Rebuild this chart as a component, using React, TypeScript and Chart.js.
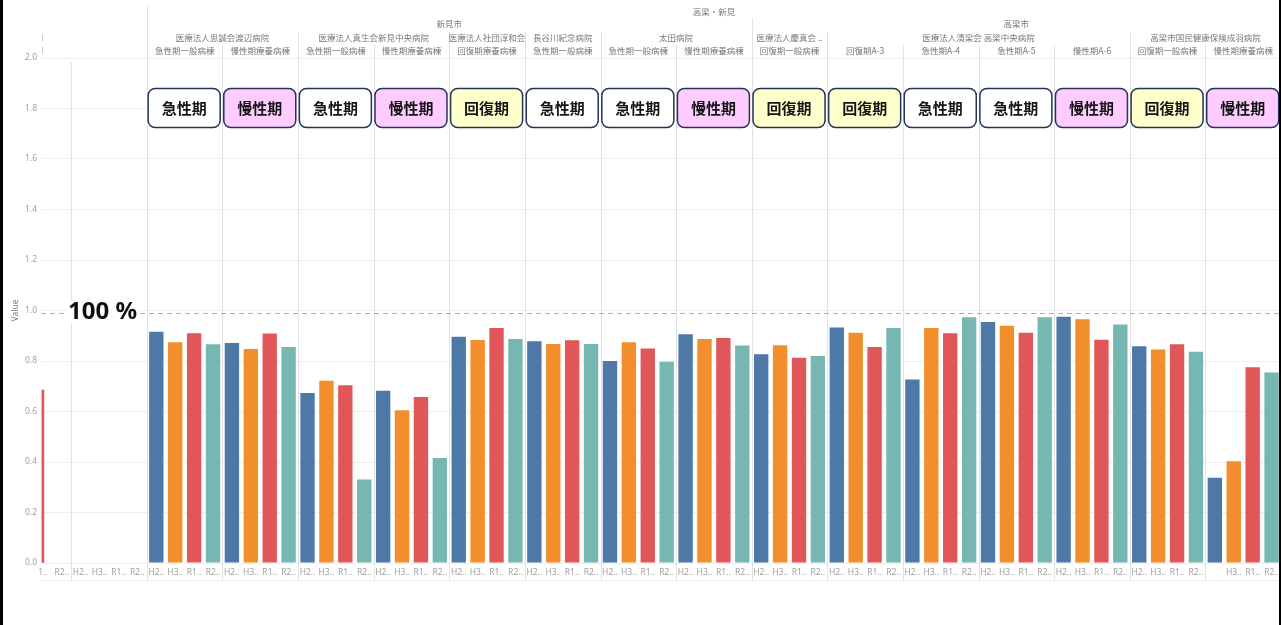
import React, { useEffect, useRef } from 'react';
import { Chart, registerables } from 'chart.js';

Chart.register(...registerables);

// ---------- data ----------
const seriesNames = ['H2', 'H3', 'R1', 'R2'];
const seriesColors = ['#4e79a7', '#f28e2b', '#e15759', '#76b7b2'];

// one value per panel (17 panels; panel 0 is scrolled partly out of view, panel 1 is empty)
const h2Values = [null, null, 0.916, 0.871, 0.673, 0.682, 0.896, 0.878, 0.8, 0.906, 0.827, 0.933, 0.727, 0.954, 0.975, 0.858, 0.338];
const h3Values = [null, null, 0.874, 0.848, 0.722, 0.605, 0.883, 0.867, 0.874, 0.887, 0.862, 0.912, 0.931, 0.94, 0.965, 0.846, 0.403];
const r1Values = [0.685, null, 0.91, 0.909, 0.704, 0.657, 0.931, 0.882, 0.85, 0.891, 0.813, 0.855, 0.91, 0.912, 0.884, 0.866, 0.775];
const r2Values = [null, null, 0.866, 0.855, 0.331, 0.416, 0.887, 0.867, 0.797, 0.861, 0.82, 0.931, 0.973, 0.973, 0.945, 0.837, 0.754];

const standardTicks = ['H2..', 'H3..', 'R1..', 'R2..'];
const firstPanelTicks = ['', '', '1..', 'R2..'];
const lastPanelTicks = ['', 'H3..', 'R1..', 'R2..'];

const wardNames = ['', '', '急性期一般病棟', '慢性期療養病棟', '急性期一般病棟', '慢性期療養病棟', '回復期療養病棟', '急性期一般病棟', '急性期一般病棟', '慢性期療養病棟', '回復期一般病棟', '回復期A-3', '急性期A-4', '急性期A-5', '慢性期A-6', '回復期一般病棟', '慢性期療養病棟'];
const hospitalNames = ['医療法人思誠会渡辺病院', '医療法人真生会新見中央病院', '医療法人社団淳和会', '長谷川紀念病院', '太田病院', '医療法人慶真会 ..', '医療法人清梁会 高梁中央病院', '高梁市国民健康保険成羽病院'];
const hospitalSpans = [[2, 3], [4, 5], [6, 6], [7, 7], [8, 9], [10, 10], [11, 14], [15, 16]];
const cityNames = ['新見市', '高梁市'];
const citySpans = [[2, 9], [10, 16]];
const regionName = '高梁・新見';
const regionSpan = [2, 16];
const phaseBadges = [null, null, '急性期', '慢性期', '急性期', '慢性期', '回復期', '急性期', '急性期', '慢性期', '回復期', '回復期', '急性期', '急性期', '慢性期', '回復期', '慢性期'];
const badgeFill: Record<string, string> = { '急性期': '#ffffff', '慢性期': '#ffccff', '回復期': '#ffffcc' };

const referenceValue = 0.99;
const referenceLabel = '100 %';

const seriesValues = [h2Values, h3Values, r1Values, r2Values];
const panelCount = wardNames.length;
const tickLabels = [firstPanelTicks, ...Array(panelCount - 2).fill(standardTicks), lastPanelTicks].flat();

const CJK = '"Noto Sans CJK JP", "Noto Sans", sans-serif';

function panelEdges(chart: any, p: number) {
  const x = chart.scales.x;
  return [x.getPixelForValue(p * 4 - 0.5), Math.min(x.getPixelForValue(p * 4 + 3.5), chart.chartArea.right)];
}

const hospitalStarts = hospitalSpans.map((s) => s[0]);
function separatorTop(p: number) {
  if (p === regionSpan[0]) return 5;
  if (citySpans.some((s) => s[0] === p)) return 18;
  if (hospitalStarts.includes(p)) return 32;
  if (p < regionSpan[0]) return 62;
  return 45;
}

const decorPlugin = {
  id: 'decor',
  beforeDatasetsDraw(chart: any) {
    const ctx = chart.ctx;
    const area = chart.chartArea;
    ctx.save();
    ctx.strokeStyle = '#e2e2e2';
    ctx.lineWidth = 1;
    for (let p = 1; p < panelCount; p++) {
      const px = Math.round(panelEdges(chart, p)[0]) + 0.5;
      ctx.beginPath();
      ctx.moveTo(px, separatorTop(p));
      ctx.lineTo(px, 581);
      ctx.stroke();
    }
    ctx.strokeStyle = '#eeeeee';
    ctx.beginPath();
    ctx.moveTo(area.left, 580.5);
    ctx.lineTo(area.right, 580.5);
    ctx.stroke();
    // clipped header marks of the scrolled-out panel
    ctx.fillStyle = '#c4c4c4';
    ctx.fillRect(Math.round(area.left) + 1, 35, 1, 6);
    ctx.fillRect(Math.round(area.left) + 1, 47, 1, 6);
    ctx.restore();
  },
  afterDraw(chart: any) {
    const ctx = chart.ctx;
    const area = chart.chartArea;
    const y = chart.scales.y;
    ctx.save();
    ctx.textAlign = 'center';
    ctx.textBaseline = 'middle';
    ctx.fillStyle = '#777';
    ctx.font = `8.5px ${CJK}`;
    const spanCenter = (s: number[]) => (panelEdges(chart, s[0])[0] + panelEdges(chart, s[1])[1]) / 2;
    ctx.fillText(regionName, spanCenter(regionSpan), 12);
    cityNames.forEach((n, i) => ctx.fillText(n, spanCenter(citySpans[i]), 24));
    hospitalNames.forEach((n, i) => ctx.fillText(n, spanCenter(hospitalSpans[i]), 38));
    wardNames.forEach((n, p) => {
      if (n) ctx.fillText(n, spanCenter([p, p]), 51);
    });

    // phase badges
    phaseBadges.forEach((b, p) => {
      if (!b) return;
      const c = spanCenter([p, p]) - 0.5;
      const w = 72;
      const h = 39;
      const top = 88.5;
      ctx.beginPath();
      ctx.roundRect(c - w / 2, top, w, h, 7);
      ctx.fillStyle = badgeFill[b];
      ctx.fill();
      ctx.lineWidth = 1.5;
      ctx.strokeStyle = '#24345a';
      ctx.stroke();
      ctx.fillStyle = '#151515';
      ctx.font = `bold 15px ${CJK}`;
      ctx.fillText(b, c, top + h / 2 + 0.5);
    });

    // reference line
    const ry = Math.round(y.getPixelForValue(referenceValue)) + 0.5;
    ctx.setLineDash([5, 4]);
    ctx.strokeStyle = '#98ace2';
    ctx.lineWidth = 1;
    ctx.beginPath();
    ctx.moveTo(area.left, ry);
    ctx.lineTo(area.right, ry);
    ctx.stroke();
    ctx.setLineDash([]);
    ctx.font = 'bold 24px "Noto Sans", sans-serif';
    ctx.textAlign = 'left';
    const tw = ctx.measureText(referenceLabel).width;
    ctx.fillStyle = '#ffffff';
    ctx.fillRect(66, ry - 12, tw + 4, 22);
    ctx.fillStyle = '#111';
    ctx.fillText(referenceLabel, 68, ry - 1);
    ctx.restore();
  },
};

export default function App() {
  const ref = useRef<HTMLCanvasElement>(null);
  useEffect(() => {
    document.body.style.margin = '0';
    const datasets: any[] = seriesValues.map((vals, s) => ({
      label: seriesNames[s],
      data: vals
        .map((v, p) => ({ x: p * 4 + s, y: v }))
        .filter((d, p) => d.y !== null && p > 0),
      backgroundColor: seriesColors[s],
      grouped: false,
      barPercentage: 0.76,
      categoryPercentage: 1,
    }));
    // R1 bar of the panel scrolled almost out of view: only a sliver shows
    datasets.push({
      label: seriesNames[2] + ' (clipped)',
      data: [{ x: 2, y: r1Values[0] }],
      backgroundColor: seriesColors[2],
      grouped: false,
      barThickness: 2,
    });

    const chart = new Chart(ref.current!, {
      type: 'bar',
      data: { datasets },
      plugins: [decorPlugin],
      options: {
        animation: false,
        responsive: false,
        events: [],
        layout: { padding: { top: 58, right: 0, left: 0, bottom: 0 } },
        plugins: { legend: { display: false }, tooltip: { enabled: false } },
        scales: {
          x: {
            type: 'linear',
            offset: false,
            min: 1.9,
            max: 67.5,
            grid: { display: false, drawTicks: false },
            border: { display: false },
            afterBuildTicks: (scale: any) => {
              const t: any[] = [];
              for (let i = 2; i < tickLabels.length; i++) t.push({ value: i });
              scale.ticks = t;
            },
            afterFit: (scale: any) => {
              scale.height = 62;
              scale.paddingLeft = 0;
              scale.paddingRight = 0;
            },
            ticks: {
              autoSkip: false,
              maxRotation: 0,
              minRotation: 0,
              padding: 4,
              color: '#a0a0a0',
              font: { size: 8.5, family: '"Noto Sans", sans-serif' },
              callback: (v: any) => tickLabels[Math.round(v)] ?? '',
            },
          },
          y: {
            min: 0,
            max: 2,
            grid: { color: '#eeeeee', drawTicks: false },
            border: { display: false },
            afterFit: (scale: any) => {
              scale.width = 41;
            },
            ticks: {
              stepSize: 0.2,
              padding: 4,
              color: '#a0a0a0',
              font: { size: 8.5, family: '"Noto Sans", sans-serif' },
              callback: (v: any) => Number(v).toFixed(1),
            },
            title: {
              display: true,
              text: 'Value',
              color: '#777',
              padding: { top: 10, bottom: 0 },
              font: { size: 8.5, family: '"Noto Sans", sans-serif' },
            },
          },
        },
      } as any,
    });
    return () => chart.destroy();
  }, []);

  return (
    <div style={{ position: 'relative', width: 1281, height: 625, overflow: 'hidden', background: '#fff' }}>
      <canvas ref={ref} width={1281} height={625} style={{ display: 'block' }} />
      <div style={{ position: 'absolute', left: 0, top: 0, width: 3, height: 625, background: '#000' }} />
      <div style={{ position: 'absolute', right: 0, top: 0, width: 2, height: 625, background: '#000' }} />
    </div>
  );
}
